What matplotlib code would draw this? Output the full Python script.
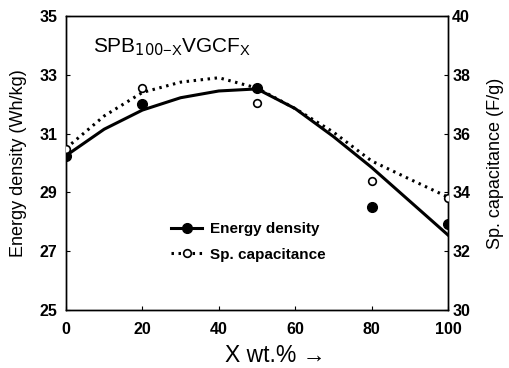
import matplotlib
matplotlib.use("Agg")
import matplotlib.pyplot as plt
from matplotlib.lines import Line2D

plt.rcParams['font.family'] = ['Liberation Sans', 'DejaVu Sans']

# measured data points
x_pts = [0, 20, 50, 80, 100]
energy_pts = [30.25, 32.0, 32.55, 28.5, 27.93]
cap_pts = [35.48, 37.55, 37.04, 34.39, 33.8]

# fitted trend curves
x_fit = [0, 10, 20, 30, 40, 50, 60, 70, 80, 90, 100]
energy_fit = [30.25, 31.15, 31.8, 32.22, 32.45, 32.52, 31.85, 30.9, 29.85, 28.7, 27.55]
cap_fit = [35.5, 36.6, 37.4, 37.75, 37.9, 37.55, 36.85, 36.05, 35.07, 34.45, 33.84]

x_ticks = [0, 20, 40, 60, 80, 100]
left_ticks = [25, 27, 29, 31, 33, 35]
right_ticks = [30, 32, 34, 36, 38, 40]

fig = plt.figure(figsize=(5.1, 3.68), dpi=100)
ax = fig.add_axes([66/510, 1-310/368, (448-66)/510, (310-16)/368])
ax2 = ax.twinx()

ax.set_xlim(0, 100)
ax.set_ylim(25, 35)
ax2.set_ylim(30, 40)

dot = (0, (0.8, 1.5))
ax.plot(x_fit, energy_fit, color='black', lw=2.2, zorder=3)
ax.plot(x_pts, energy_pts, 'o', color='black', ms=7, zorder=4)
ax2.plot(x_fit, cap_fit, color='black', lw=2.2, ls=dot, zorder=3)
ax2.plot(x_pts, cap_pts, 'o', mfc='white', mec='black', mew=1.2, ms=5.5, zorder=4)

# legend proxies
h1 = Line2D([], [], color='black', lw=2.2, marker='o', ms=7)
h2 = Line2D([], [], color='black', lw=2.2, ls=dot, marker='o', mfc='white', mec='black', mew=1.2, ms=5.5)
leg = ax.legend([h1, h2], ['Energy density', 'Sp. capacitance'], loc='upper left',
                bbox_to_anchor=(0.24, 0.345), frameon=False,
                prop={'size': 11, 'weight': 'bold'},
                handlelength=2.0, handletextpad=0.5, labelspacing=0.75)

ax.set_xticks(x_ticks)
ax.set_yticks(left_ticks)
ax2.set_yticks(right_ticks)
for a in (ax, ax2):
    a.tick_params(direction='in', length=3, width=0.8, labelsize=11.5)
    for lab in a.get_xticklabels() + a.get_yticklabels():
        lab.set_fontweight('bold')
    for s in a.spines.values():
        s.set_linewidth(1.0)
ax.tick_params(axis='x', pad=9)
ax.tick_params(axis='y', pad=6)
ax2.tick_params(axis='y', pad=3)
for s in ('top',):
    ax.spines[s].set_linestyle((0, (1, 1)))
    ax2.spines[s].set_linestyle((0, (1, 1)))

ax.set_xlabel('X wt.% \u2192', fontsize=16.5)
ax.xaxis.label.set_va('center')
ax.xaxis.set_label_coords((275-66)/382, -(356-310)/294)
ax.set_ylabel('Energy density (Wh/kg)', fontsize=13, labelpad=9)
ax2.set_ylabel('Sp. capacitance (F/g)', fontsize=13, labelpad=12)

ax.text(0.07, 0.875, r'SPB$_{100\mathregular{-X}}$VGCF$_\mathregular{X}$', transform=ax.transAxes,
        fontsize=15)

fig.savefig('out.png', dpi=100)
